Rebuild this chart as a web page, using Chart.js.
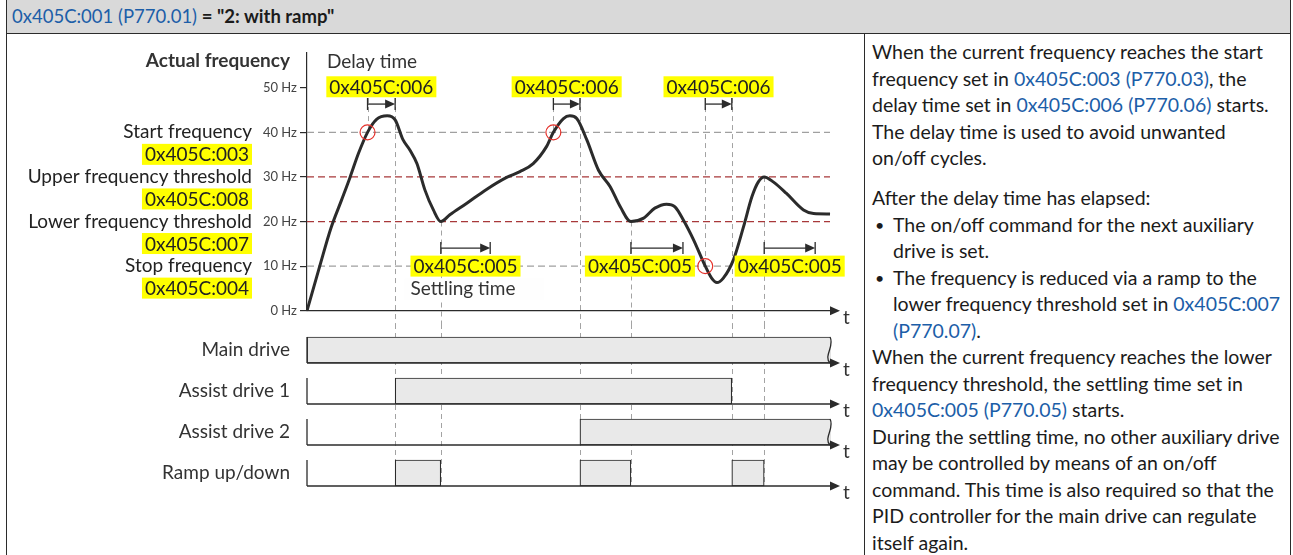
<!DOCTYPE html>
<html>
<head>
<meta charset="utf-8">
<title>0x405C:001 (P770.01) = "2: with ramp"</title>
<script src="https://cdn.jsdelivr.net/npm/chart.js@4.4.1/dist/chart.umd.min.js"></script>
<style>
  body { margin: 0; width: 1293px; height: 555px; overflow: hidden; background: #fff;
         font-family: Lato, "Open Sans", sans-serif; color: #1b1b1b; position: relative; }
  #frame { position: absolute; left: 6px; top: -2px; width: 1285px; height: 600px; border: 1px solid #2b2b2b; box-sizing: border-box; }
  #head { position: absolute; left: 7px; top: 0; width: 1283px; height: 34px; background: #d9d9d9;
          border-bottom: 1px solid #2b2b2b; box-sizing: border-box; padding-left: 5px; font-size: 18.5px; line-height: 33px; }
  #split { position: absolute; left: 864px; top: 33px; width: 1px; height: 530px; background: #2b2b2b; }
  .lnk { color: #1c5ea8; }
  #notes { position: absolute; left: 872px; top: 39px; width: 418px; font-size: 19.5px; line-height: 26.5px; white-space: nowrap; }
  #notes .gap { height: 13.5px; }
  #notes .li { position: relative; padding-left: 21px; }
  #notes .li::before { content: "\2022"; position: absolute; left: 3px; font-size: 16px; }
  #notes .ind { padding-left: 21px; }
  canvas { position: absolute; left: 0; }
  #freq { top: 34px; }
  #drives { top: 300px; }
</style>
</head>
<body>
<div id="frame"></div>
<div id="head"><span class="lnk">0x405C:001 (P770.01)</span> <b>= "2: with ramp"</b></div>
<div id="split"></div>

<div id="notes">
  <div>When the current frequency reaches the start</div>
  <div>frequency set in <span class="lnk">0x405C:003 (P770.03)</span>, the</div>
  <div>delay time set in <span class="lnk">0x405C:006 (P770.06)</span> starts.</div>
  <div>The delay time is used to avoid unwanted</div>
  <div>on/off cycles.</div>
  <div class="gap"></div>
  <div>After the delay time has elapsed:</div>
  <div class="li">The on/off command for the next auxiliary</div>
  <div class="ind">drive is set.</div>
  <div class="li">The frequency is reduced via a ramp to the</div>
  <div class="ind">lower frequency threshold set in <span class="lnk">0x405C:007</span></div>
  <div class="ind"><span class="lnk">(P770.07)</span>.</div>
  <div>When the current frequency reaches the lower</div>
  <div>frequency threshold, the settling time set in</div>
  <div><span class="lnk">0x405C:005 (P770.05)</span> starts.</div>
  <div>During the settling time, no other auxiliary drive</div>
  <div>may be controlled by means of an on/off</div>
  <div>command. This time is also required so that the</div>
  <div>PID controller for the main drive can regulate</div>
  <div>itself again.</div>
</div>

<canvas id="freq" width="864" height="290"></canvas>
<canvas id="drives" width="864" height="224"></canvas>

<script>
// ---- data (time in arbitrary units 0..100) ----
const timeMax = 100;
const traceEnd = 98.5;
const freqTicks = [0, 10, 20, 30, 40, 50];

const freqTime = [0, 2.4, 4.5, 6.5, 8.1, 9.7, 11.4, 13.1, 15.1, 16.6,
  18.1, 19.4, 20.7, 22.2, 23.8, 25.2, 26.9, 30.1, 33.8, 37.6,
  40.1, 42.6, 45.1, 46.4, 48.3, 49.5, 50.8, 52.7, 54.9, 57.1,
  59.0, 61.0, 63.3, 65.5, 67.7, 69.3, 70.9, 72.8, 75.0, 76.2,
  77.2, 78.4, 80.3, 82.2, 83.8, 85.0, 86.1, 87.8, 90.3, 93.5,
  95.4, 98.5];
const freqValue = [0, 10, 18.5, 24.8, 29.9, 35.3, 40, 42.9, 43.7, 42.8,
  38.3, 36.0, 33.0, 27.1, 22.6, 20, 21.5, 24.1, 27.2, 29.9,
  31.2, 33.0, 36.8, 40, 43.1, 43.7, 43.1, 38.3, 31.5, 27.8,
  23.3, 20, 20.7, 23.0, 23.9, 23.3, 20.3, 15.9, 10, 7.3,
  6.3, 7.3, 11.4, 18.8, 25.6, 28.9, 30, 28.9, 26.3, 22.6,
  21.8, 21.7];

const thresholdValue = [40, 30, 20, 10];
const thresholdName = ['Start frequency', 'Upper frequency threshold', 'Lower frequency threshold', 'Stop frequency'];
const thresholdParam = ['0x405C:003', '0x405C:008', '0x405C:007', '0x405C:004'];
const thresholdKind = ['grey', 'red', 'red', 'grey'];

const startCross = [11.4, 46.4, 75.0];   // start / stop frequency reached
const crossFreq = [40, 40, 10];
const delayEnd = [16.6, 51.4, 80.0];
const settleStart = [25.2, 61.0, 86.1];
const settleFreq = [20, 20, 30];
const settleEnd = [34.5, 70.8, 95.7];
const delayParam = '0x405C:006';
const settleParam = '0x405C:005';

const driveRows = ['Main drive', 'Assist drive 1', 'Assist drive 2', 'Ramp up/down'];
const mainDriveOn = [[0, 98.5]];
const assist1On = [[16.6, 80.0]];
const assist2On = [[51.4, 98.5]];
const rampOn = [[16.6, 25.2], [51.4, 61.0], [80.0, 86.1]];

// ---- styles ----
const ink = '#2b2b2b';
const guideGrey = '#a3a3a3';
const lineColors = { grey: '#a0a0a0', red: '#a8383a' };
const fontFam = 'Lato, "Open Sans", sans-serif';
const labelPx = 19;
const settleTagShift = [0, -17, 0];

Chart.defaults.font.family = fontFam;
Chart.defaults.color = '#333';

function tag(ctx, text, cx, cy, align) {
  const w = ctx.measureText(text).width + 6;
  const left = align === 'right' ? cx - w : align === 'left' ? cx : cx - w / 2;
  ctx.fillStyle = '#ffff00';
  ctx.fillRect(left, cy - 10.5, w, 21);
  ctx.fillStyle = '#222';
  ctx.textAlign = 'left';
  ctx.fillText(text, left + 3, cy + 1);
}

function arrowLine(ctx, x0, x1, yy, ticks) {
  ctx.beginPath();
  ctx.moveTo(x0, yy);
  ctx.lineTo(x1 - 8, yy);
  ctx.stroke();
  ctx.beginPath();
  ctx.moveTo(x1, yy);
  ctx.lineTo(x1 - 10, yy - 4.5);
  ctx.lineTo(x1 - 10, yy + 4.5);
  ctx.closePath();
  ctx.fill();
  if (ticks) {
    ctx.beginPath();
    ctx.moveTo(x0, yy - 6); ctx.lineTo(x0, yy + 6);
    ctx.moveTo(x1, yy - 6); ctx.lineTo(x1, yy + 6);
    ctx.stroke();
  }
}

function vGuide(ctx, xx, y0, y1) {
  xx = Math.round(xx) + 0.5;
  ctx.beginPath();
  ctx.moveTo(xx, y0);
  ctx.lineTo(xx, y1);
  ctx.stroke();
}

const freqDecor = {
  id: 'freqDecor',
  beforeDatasetsDraw(chart) {
    const { ctx, scales: { x, y } } = chart;
    const bracketY = y.getPixelForValue(50) + 16.3;
    ctx.save();
    ctx.strokeStyle = guideGrey;
    ctx.lineWidth = 1;
    ctx.setLineDash([5, 4]);
    startCross.forEach((t, i) => vGuide(ctx, x.getPixelForValue(t), bracketY - 6, y.getPixelForValue(crossFreq[i])));
    delayEnd.forEach(t => vGuide(ctx, x.getPixelForValue(t), bracketY - 6, chart.height));
    settleStart.forEach((t, i) => vGuide(ctx, x.getPixelForValue(t), y.getPixelForValue(settleFreq[i]), chart.height));
    ctx.restore();
  },
  afterDatasetsDraw(chart) {
    const { ctx, chartArea: a, scales: { x, y } } = chart;
    const y50 = y.getPixelForValue(50);
    const y10 = y.getPixelForValue(10);
    const y0 = y.getPixelForValue(0);
    const bracketY = y50 + 16.3;
    const settleY = y10 - 18;
    ctx.save();
    ctx.strokeStyle = ink;
    ctx.fillStyle = ink;
    ctx.lineWidth = 1.3;
    arrowLine(ctx, a.left, a.right + 2, y0, false);
    startCross.forEach((t, i) => arrowLine(ctx, x.getPixelForValue(t), x.getPixelForValue(delayEnd[i]), bracketY, true));
    settleStart.forEach((t, i) => arrowLine(ctx, x.getPixelForValue(t), x.getPixelForValue(settleEnd[i]), settleY, true));

    ctx.textBaseline = 'middle';
    ctx.font = labelPx + 'px ' + fontFam;
    ctx.fillStyle = '#333';
    ctx.textAlign = 'left';
    ctx.fillText('t', a.right + 5, y0 + 7);

    ctx.font = 'bold ' + labelPx + 'px ' + fontFam;
    ctx.textAlign = 'right';
    ctx.fillText('Actual frequency', a.left - 17, y50 - 26.7);

    ctx.font = labelPx + 'px ' + fontFam;
    ctx.textAlign = 'left';
    ctx.fillStyle = '#333';
    ctx.fillText('Delay time', a.left + 20, y50 - 25.7);

    thresholdValue.forEach((v, i) => {
      const yy = y.getPixelForValue(v);
      ctx.fillStyle = '#222';
      ctx.textAlign = 'right';
      ctx.fillText(thresholdName[i], a.left - 55, yy);
      tag(ctx, thresholdParam[i], a.left - 55, yy + 22, 'right');
    });

    startCross.forEach((t, i) => {
      const cx = (x.getPixelForValue(t) + x.getPixelForValue(delayEnd[i])) / 2;
      tag(ctx, delayParam, cx, y50 - 1, 'center');
    });

    // backdrop of the "Settling time" caption
    const tagW = ctx.measureText(settleParam).width + 6;
    const firstTagLeft = (x.getPixelForValue(settleStart[0]) + x.getPixelForValue(settleEnd[0])) / 2 + settleTagShift[0] - tagW / 2;
    ctx.fillStyle = '#fefefe';
    ctx.fillRect(firstTagLeft - 6, y10 + 12, 140, 22);
    settleStart.forEach((t, i) => {
      const cx = (x.getPixelForValue(t) + x.getPixelForValue(settleEnd[i])) / 2 + settleTagShift[i];
      tag(ctx, settleParam, cx, y10, 'center');
    });
    ctx.fillStyle = '#333';
    ctx.textAlign = 'left';
    ctx.fillText('Settling time', firstTagLeft, y10 + 23);
    ctx.restore();
  }
};

const driveIntervals = [mainDriveOn, assist1On, assist2On, rampOn];
const barHalf = 13;

const driveDecor = {
  id: 'driveDecor',
  beforeDatasetsDraw(chart) {
    const { ctx, chartArea: a, scales: { x, y } } = chart;
    const bottom = y.getPixelForValue(driveRows.length - 1) + barHalf;
    ctx.save();
    ctx.strokeStyle = guideGrey;
    ctx.lineWidth = 1;
    ctx.setLineDash([5, 4]);
    // continue the guides that come down from the frequency plot
    delayEnd.concat(settleStart).forEach(t => vGuide(ctx, x.getPixelForValue(t), a.top - 5.5, bottom));
    ctx.restore();
  },
  afterDatasetsDraw(chart) {
    const { ctx, chartArea: a, scales: { x, y } } = chart;
    ctx.save();
    ctx.strokeStyle = ink;
    ctx.fillStyle = ink;
    ctx.lineWidth = 1.3;
    ctx.font = labelPx + 'px ' + fontFam;
    ctx.textBaseline = 'middle';
    driveRows.forEach((row, r) => {
      const cy = y.getPixelForValue(r);
      const base = cy + barHalf;
      ctx.beginPath();
      ctx.moveTo(a.left, cy - barHalf);
      ctx.lineTo(a.left, base);
      ctx.stroke();
      arrowLine(ctx, a.left, a.right + 2, base, false);
      ctx.fillStyle = '#333';
      ctx.textAlign = 'left';
      ctx.fillText('t', a.right + 5, base + 7);
      ctx.fillStyle = ink;
      driveIntervals[r].forEach(iv => {
        if (iv[1] < traceEnd) return;
        const xe = x.getPixelForValue(iv[1]);
        ctx.beginPath();
        ctx.moveTo(xe, cy - barHalf);
        ctx.bezierCurveTo(xe + 5, cy - 4, xe - 7, cy + 6, xe, base);
        ctx.stroke();
      });
    });
    ctx.restore();
  }
};

function drawCharts() {
  new Chart(document.getElementById('freq'), {
    type: 'line',
    data: {
      datasets: [
        {
          data: startCross.map((t, i) => ({ x: t, y: crossFreq[i] })),
          showLine: false,
          pointRadius: 7.5,
          pointBorderColor: '#e5312b',
          pointBackgroundColor: 'rgba(0,0,0,0)',
          pointBorderWidth: 1.2
        },
        {
          data: freqTime.map((t, i) => ({ x: t, y: freqValue[i] })),
          borderColor: ink,
          borderWidth: 3,
          pointRadius: 0,
          cubicInterpolationMode: 'monotone',
          fill: false
        },
        ...thresholdValue.map((v, i) => ({
          data: [{ x: 0, y: v }, { x: traceEnd, y: v }],
          borderColor: lineColors[thresholdKind[i]],
          borderWidth: 1.2,
          borderDash: [7, 4],
          pointRadius: 0,
          fill: false
        }))
      ]
    },
    options: {
      responsive: false,
      animation: false,
      devicePixelRatio: 1,
      layout: { padding: { top: 19, right: 26, bottom: 13.3, left: 0 } },
      plugins: { legend: { display: false }, tooltip: { enabled: false } },
      scales: {
        x: { type: 'linear', min: 0, max: timeMax, display: false },
        y: {
          min: 0,
          max: 57.8,
          afterFit: s => { s.width = 307; },
          afterBuildTicks: s => { s.ticks = freqTicks.map(v => ({ value: v })); },
          ticks: { callback: v => v + ' Hz', font: { size: 13 }, color: '#444', padding: 3 },
          grid: { drawOnChartArea: false, tickLength: 7, color: ink, lineWidth: 1.2 },
          border: { color: ink, width: 1.2 }
        }
      }
    },
    plugins: [freqDecor]
  });

  const driveSets = [];
  driveIntervals.forEach((list, r) => list.forEach(iv => {
    driveSets.push({
      data: driveRows.map((_, i) => (i === r ? iv : null)),
      backgroundColor: '#e9e9e9',
      borderColor: ink,
      borderWidth: 1.2,
      borderSkipped: iv[1] >= traceEnd ? 'right' : false,
      barThickness: barHalf * 2,
      grouped: false
    });
  }));

  new Chart(document.getElementById('drives'), {
    type: 'bar',
    data: { labels: driveRows, datasets: driveSets },
    options: {
      indexAxis: 'y',
      responsive: false,
      animation: false,
      devicePixelRatio: 1,
      layout: { padding: { top: 29.5, right: 26, bottom: 30.5, left: 0 } },
      plugins: { legend: { display: false }, tooltip: { enabled: false } },
      scales: {
        x: { type: 'linear', min: 0, max: timeMax, display: false },
        y: {
          afterFit: s => { s.width = 307; },
          grid: { display: false, drawTicks: false },
          border: { display: false },
          ticks: { font: { size: labelPx }, color: '#333', padding: 17 }
        }
      }
    },
    plugins: [driveDecor]
  });
}

Promise.all([
  document.fonts.load('19px Lato'),
  document.fonts.load('bold 19px Lato')
]).then(drawCharts, drawCharts);
</script>
</body>
</html>
